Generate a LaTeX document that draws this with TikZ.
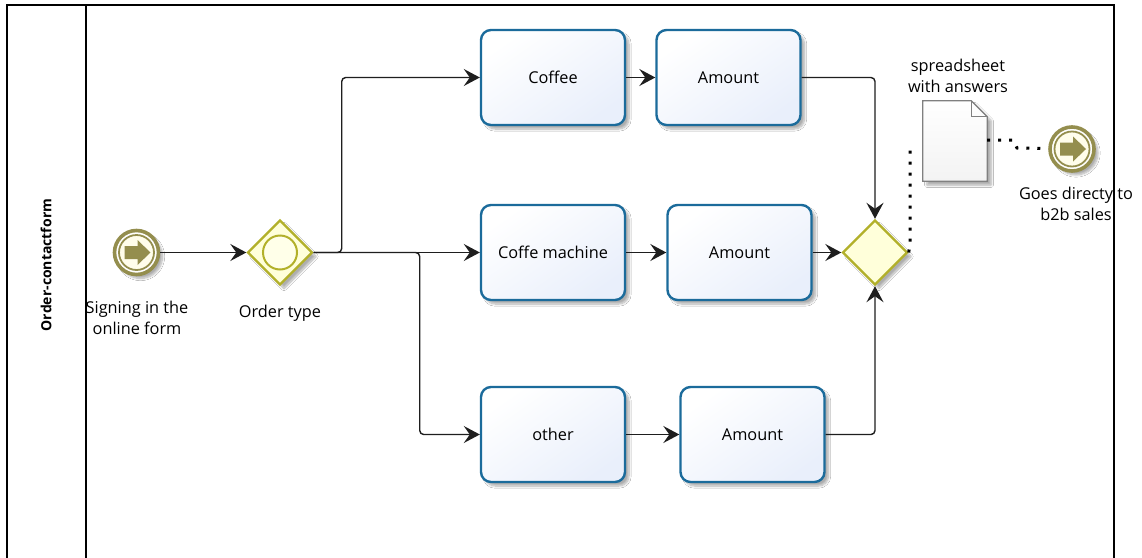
\documentclass[tikz,border=0pt]{standalone}
\usepackage{fontspec}
\setmainfont{Open Sans}
\usetikzlibrary{arrows.meta,shapes.geometric,shadows.blur,calc}

\definecolor{taskline}{HTML}{1B6B9B}
\definecolor{taskfill}{HTML}{E9EFFB}
\definecolor{gwline}{HTML}{B2B02A}
\definecolor{gwfill}{HTML}{FFFFDA}
\definecolor{evline}{HTML}{948E4E}
\definecolor{evfill}{HTML}{FFFDEB}
\definecolor{docline}{HTML}{808080}
\definecolor{docfill}{HTML}{F3F3F3}
\definecolor{flowline}{HTML}{1E1E1E}

\newcommand\lblfont{\fontsize{16.3}{21}\selectfont}

% BPMN message-style event: double ring with a right arrow
\newcommand\bpmnevent[2]{%
  \node[evouter] (#1) at (#2) {};
  \node[evinner] at (#1) {};
  \fill[evline, shift={(#1)}]
    (-12,-6.5) -- (1,-6.5) -- (1,-12.5) -- (14,0) -- (1,12.5) -- (1,6.5) -- (-12,6.5) -- cycle;
}

\begin{document}
\begin{tikzpicture}[x=1pt, y=-1pt,
  softshadow/.style={blur shadow={shadow xshift=4pt, shadow yshift=-4pt,
      shadow blur steps=8, shadow opacity=32}},
  task/.style={draw=taskline, line width=2.4pt, rounded corners=10pt,
      minimum width=144pt, minimum height=95pt, inner sep=0pt,
      top color=white, bottom color=taskfill, shading angle=35,
      softshadow, font=\lblfont},
  gateway/.style={diamond, aspect=1, draw=gwline, line width=2.4pt, fill=gwfill,
      minimum width=65pt, minimum height=65pt, inner sep=0pt, softshadow},
  gwcircle/.style={circle, draw=gwline, line width=2pt, fill=gwfill!60,
      minimum size=34pt, inner sep=0pt},
  evouter/.style={circle, draw=evline, line width=3.6pt, fill=white,
      minimum size=44pt, inner sep=0pt, softshadow},
  evinner/.style={circle, draw=evline, line width=1.8pt, fill=evfill,
      minimum size=35pt, inner sep=0pt},
  lbl/.style={font=\lblfont, inner sep=0pt, align=center},
  flow/.style={draw=flowline, line width=1.4pt, rounded corners=4pt,
      -{Stealth[length=16pt, width=17pt, inset=6pt, sharp]}},
  assoc/.style={draw=black, line width=3pt, dash pattern=on 3pt off 8pt},
  pool/.style={draw=black, line width=1.5pt}
]
\useasboundingbox[fill=white] (0,0) rectangle (1142,557);

% pool and lane
\draw[pool] (7,570) -- (7,5) -- (1114,5) -- (1114,570);
\draw[pool] (86,5) -- (86,570);
\node[rotate=90, font=\fontsize{14}{16}\selectfont\bfseries] (lane) at (46,265) {Order-contactform};

% events
\bpmnevent{start}{136.5,252.5}
\bpmnevent{goal}{1072,149}

% gateways
\node[gateway] (split) at (280,252.5) {};
\node[gwcircle] (splitc) at (split) {};
\node[gateway] (merge) at (875,252.5) {};

% tasks
\node[task] (coffee)  at (553,77.5)  {Coffee};
\node[task] (amt1)    at (728.5,77.5) {Amount};
\node[task] (machine) at (553,252.5) {Coffe machine};
\node[task] (amt2)    at (739.5,252.5) {Amount};
\node[task] (other)   at (553,434.5) {other};
\node[task] (amt3)    at (752.5,434.5) {Amount};

% data object
\node[minimum width=64pt, minimum height=80pt, inner sep=0pt] (doc) at (955,141) {};
\filldraw[draw=docline, line width=1.2pt, top color=white, bottom color=docfill, softshadow]
  (doc.north west) -- ([xshift=-16pt]doc.north east) -- ([yshift=-16pt]doc.north east)
  -- (doc.south east) -- (doc.south west) -- cycle;
\draw[docline, line width=1pt] ([xshift=-16pt]doc.north east) -- ([xshift=-16pt,yshift=-16pt]doc.north east)
  -- ([yshift=-16pt]doc.north east);

% labels
\node[lbl] (startlbl) at (137,317.5) {Signing in the\\online form};
\node[lbl] (splitlbl) at (280,313) {Order type};
\node[lbl] (doclbl)   at (958,75.5) {spreadsheet\\with answers};
\node[lbl] (goallbl)  at (1076,203.5) {Goes directy to\\b2b sales};

% sequence flows
\draw[flow] (start) -- (split.west);
\draw[flow] (split.east) -- ++(28,0) |- (coffee.west);
\draw[flow] (split.east) -- (machine.west);
\draw[flow] (split.east) -- ++(106,0) |- (other.west);
\draw[flow] (coffee) -- (amt1);
\draw[flow] (machine) -- (amt2);
\draw[flow] (other) -- (amt3);
\draw[flow] (amt1.east) -| (merge.north);
\draw[flow] (amt2.east) -- (merge.west);
\draw[flow] (amt3.east) -| (merge.south);

% associations
\coordinate (assocend) at (910,145);
\draw[assoc] (merge.east) -- (910,243) -- (assocend);
\draw[assoc] (doc.east |- 0,140) -- (1013,140) -- (1017,148) -- (goal);
\end{tikzpicture}
\end{document}
